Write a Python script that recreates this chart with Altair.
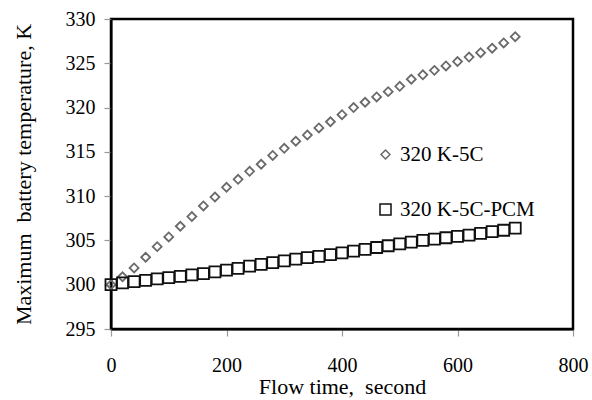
import altair as alt
import pandas as pd

time_s = [0, 20, 40, 60, 80, 100, 120, 140, 160, 180, 200, 220, 240, 260, 280, 300,
          320, 340, 360, 380, 400, 420, 440, 460, 480, 500, 520, 540, 560, 580, 600,
          620, 640, 660, 680, 700]

temp_5c = [300.0, 300.9, 301.9, 303.1, 304.3, 305.4, 306.6, 307.7, 308.9, 309.9,
           311.0, 311.9, 312.8, 313.6, 314.6, 315.4, 316.2, 316.9, 317.7, 318.4,
           319.2, 320.0, 320.6, 321.2, 321.8, 322.4, 323.2, 323.7, 324.2, 324.7,
           325.2, 325.7, 326.2, 326.7, 327.3, 328.0]

temp_pcm = [300.0, 300.2, 300.35, 300.5, 300.65, 300.8, 300.95, 301.1, 301.25, 301.45,
            301.65, 301.85, 302.1, 302.3, 302.5, 302.7, 302.9, 303.05, 303.2, 303.4,
            303.6, 303.8, 304.0, 304.2, 304.4, 304.6, 304.8, 305.0, 305.15, 305.3,
            305.45, 305.6, 305.8, 306.0, 306.15, 306.4]

series_names = ["320 K-5C", "320 K-5C-PCM"]
x_ticks = [0, 200, 400, 600, 800]
y_ticks = [295, 300, 305, 310, 315, 320, 325, 330]

rows = []
for name, vals in zip(series_names, [temp_5c, temp_pcm]):
    for t, v in zip(time_s, vals):
        rows.append({"time": t, "temp": v, "series": name})
df = pd.DataFrame(rows)

FONT = "Liberation Serif"

chart = alt.Chart(df).mark_point(filled=False, strokeWidth=1.8, opacity=1).encode(
    x=alt.X("time:Q", scale=alt.Scale(domain=[0, 800], nice=False),
            axis=alt.Axis(values=x_ticks, title="Flow time,\u00a0 second", grid=False,
                          titlePadding=1, labelPadding=19, labelFlush=False)),
    y=alt.Y("temp:Q", scale=alt.Scale(domain=[295, 330], nice=False, zero=False),
            axis=alt.Axis(values=y_ticks, title="Maximum\u00a0 battery temperature, K",
                          grid=False, titlePadding=30, labelPadding=9, labelFlush=False)),
    shape=alt.Shape("series:N", scale=alt.Scale(domain=series_names, range=["diamond", "square"]),
                    legend=alt.Legend(title=None, orient="none", legendX=264, legendY=125,
                                      labelFontSize=21, labelFont=FONT, rowPadding=33,
                                      labelOffset=4, labelColor="#000")),
    color=alt.Color("series:N", scale=alt.Scale(domain=series_names, range=["#6a6a6a", "#111111"])),
    size=alt.Size("series:N", scale=alt.Scale(domain=series_names, range=[80, 121])),
).properties(
    width=462, height=310, autosize="none",
    padding={"left": 111, "top": 19, "right": 19, "bottom": 71},
).configure_view(
    stroke="#000", strokeWidth=2.5
).configure_axis(
    labelFont=FONT, titleFont=FONT, labelFontSize=20, titleFontSize=22,
    labelColor="#000", titleColor="#000", titleFontWeight="normal",
    domainColor="#000", domainWidth=2, tickColor="#999", tickSize=7, tickWidth=1.2
)

chart.save("out.html", embed_options={"renderer": "svg", "actions": False})
